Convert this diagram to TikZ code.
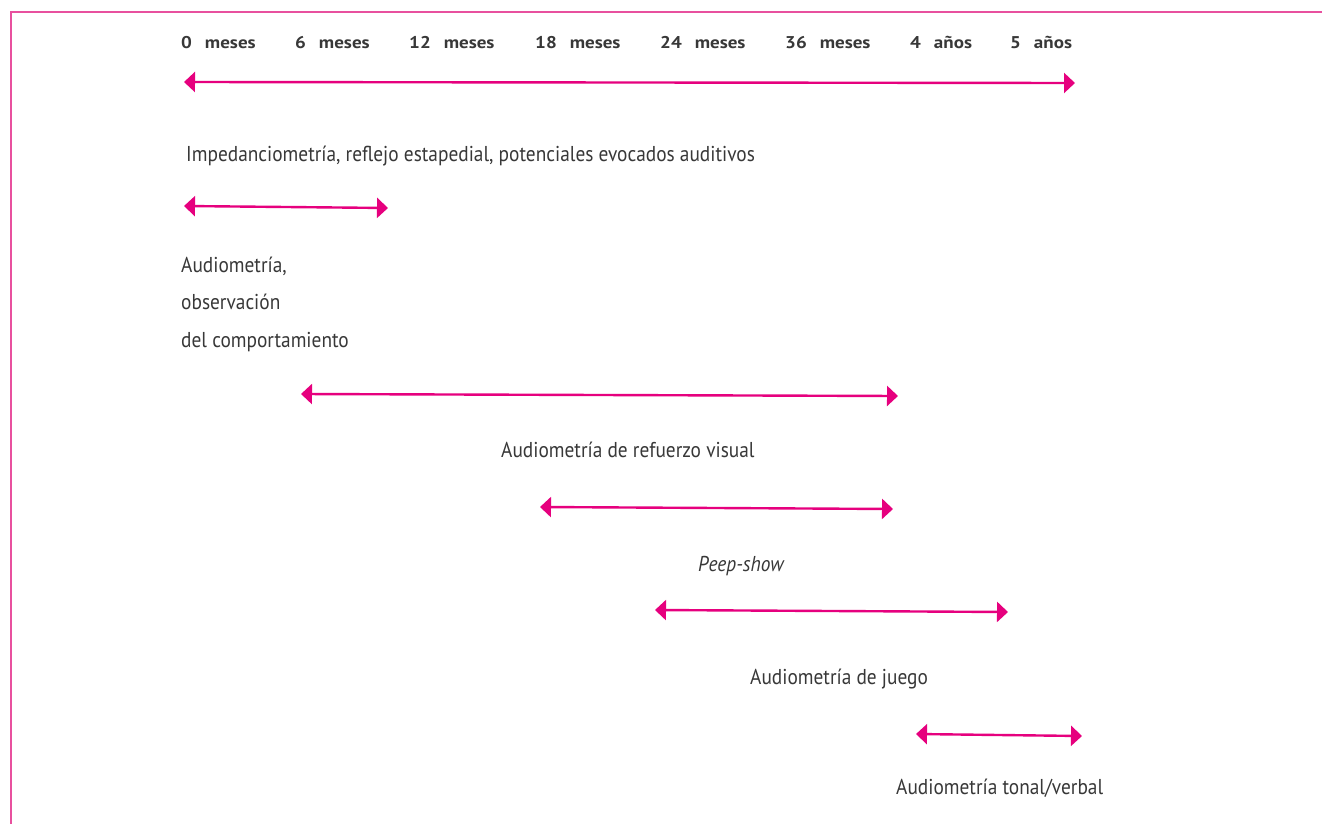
\documentclass[tikz,border=0pt]{standalone}
\usepackage{fontspec}
\setmainfont[FakeStretch=0.9]{PT Sans}
\newfontfamily\hdrfont[FakeStretch=1.12]{PT Sans}
\usetikzlibrary{arrows.meta}
\definecolor{mag}{HTML}{E6007E}
\definecolor{frame}{HTML}{E8509E}
\definecolor{txt}{HTML}{383838}
\tikzset{
  span/.style={draw=mag, line width=2.4pt, {Triangle[length=11pt,width=20pt]}-{Triangle[length=11pt,width=20pt]}},
  hdr/.style={anchor=base west, inner sep=0pt, text=txt, font=\hdrfont\fontsize{17pt}{20pt}\selectfont\bfseries},
  lbl/.style={anchor=base west, inner sep=0pt, text=txt, font=\fontsize{21.5pt}{25pt}\selectfont},
}
\newcommand{\hgap}{\hspace{13pt}}
\begin{document}
\begin{tikzpicture}[x=1pt,y=-1pt]
\useasboundingbox (0,0) rectangle (1322,824);
\fill[white] (0,0) rectangle (1322,824);
\draw[frame, line width=1.6pt] (11,824) -- (11,12) -- (1322,12);
% header
\node[hdr] (h0) at (181,49) {0\hgap meses};
\node[hdr] (h6) at (295,49) {6\hgap meses};
\node[hdr] (h12) at (409,49) {12\hgap meses};
\node[hdr] (h18) at (535,49) {18\hgap meses};
\node[hdr] (h24) at (660,49) {24\hgap meses};
\node[hdr] (h36) at (785,49) {36\hgap meses};
\node[hdr] (h4) at (910,49) {4\hgap años};
\node[hdr] (h5) at (1010,49) {5\hgap años};
% arrows
\coordinate (a1s) at (184,82); \coordinate (a1e) at (1075,83);
\draw[span] (a1s) -- (a1e);
\node[lbl] (l1) at (186,161) {Impedanciometría, reflejo estapedial, potenciales evocados auditivos};
\coordinate (a2s) at (184,206); \coordinate (a2e) at (388,208);
\draw[span] (a2s) -- (a2e);
\node[lbl] (l2a) at (181,272) {Audiometría,};
\node[lbl] (l2b) at (181,309) {observación};
\node[lbl] (l2c) at (181,347) {del comportamiento};
\coordinate (a3s) at (301,394); \coordinate (a3e) at (898,396);
\draw[span] (a3s) -- (a3e);
\node[lbl] (l3) at (501,457) {Audiometría de refuerzo visual};
\coordinate (a4s) at (540,507); \coordinate (a4e) at (893,509);
\draw[span] (a4s) -- (a4e);
\node[lbl] (l4) at (698,571) {\itshape Peep-show};
\coordinate (a5s) at (655,610); \coordinate (a5e) at (1008,612);
\draw[span] (a5s) -- (a5e);
\node[lbl] (l5) at (750,684) {Audiometría de juego};
\coordinate (a6s) at (916,734); \coordinate (a6e) at (1082,736);
\draw[span] (a6s) -- (a6e);
\node[lbl] (l6) at (896,794) {Audiometría tonal/verbal};
\end{tikzpicture}
\end{document}
